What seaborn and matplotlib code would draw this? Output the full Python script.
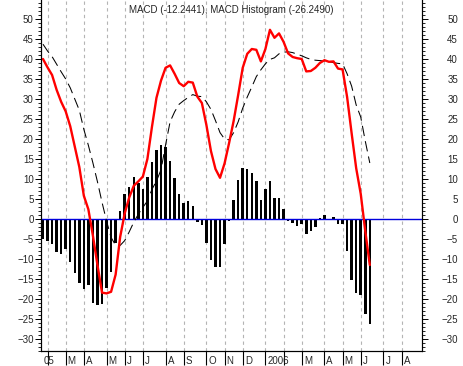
import numpy as np
import pandas as pd
import matplotlib
matplotlib.use('Agg')
import matplotlib.pyplot as plt
import matplotlib.transforms as mtrans
from matplotlib.ticker import MultipleLocator
import seaborn as sns

sns.set_theme(style='ticks')
plt.rcParams['font.family'] = ['Liberation Sans', 'DejaVu Sans']

# weekly data, first bar = week of 2005-01-24
start_week = '2005-01-24'
title = 'MACD (-12.2441), MACD Histogram (-26.2490)'

hist = [-5.0, -5.4, -6.3, -8.2, -8.75, -7.6, -10.7, -13.6, -16.1, -17.5,
        -16.5, -21.1, -21.6, -21.3, -17.3, -13.2, -6.0, 2.0, 6.25, 8.0,
        10.4, 9.0, 7.5, 10.4, 14.2, 17.25, 18.5, 18.0, 14.6, 10.2,
        6.25, 4.1, 4.5, 3.3, -0.8, -1.5, -5.9, -10.3, -11.9, -11.9,
        -6.2, -0.6, 4.7, 9.7, 12.7, 12.6, 11.6, 9.6, 4.8, 7.4,
        9.4, 5.2, 5.3, 2.4, -0.5, -1.1, -1.7, -1.25, -3.8, -2.9,
        -2.1, 0.25, 0.9, -0.2, 0.4, -1.25, -1.25, -7.9, -15.3, -18.4,
        -19.0, -23.8, -26.25]

macd = [40.0, 37.9, 36.0, 32.3, 29.3, 26.9, 23.2, 18.1, 13.0, 5.8,
        2.4, -4.2, -11.5, -18.4, -18.6, -18.2, -13.9, -4.5, 1.4, 5.4,
        8.3, 9.4, 10.6, 15.0, 23.0, 30.3, 34.6, 37.8, 38.4, 36.3,
        34.0, 33.2, 34.3, 34.1, 30.6, 29.0, 23.5, 17.0, 12.5, 10.3,
        13.9, 19.0, 24.5, 31.0, 37.8, 41.3, 42.5, 42.3, 39.4, 42.5,
        47.3, 45.3, 46.4, 44.3, 41.4, 40.5, 40.2, 40.0, 36.9, 37.0,
        37.8, 39.0, 39.7, 39.3, 39.4, 37.6, 37.4, 30.5, 21.4, 12.7,
        6.3, -3.0, -11.5]

signal = [43.7, 42.0, 40.6, 38.7, 36.8, 35.0, 32.8, 30.0, 27.2, 22.4,
          18.4, 14.0, 9.3, 4.2, -0.5, -4.6, -6.6, -6.6, -5.4, -3.2,
          -0.8, 1.2, 2.9, 4.5, 7.4, 9.5, 12.3, 18.5, 24.3, 26.8,
          28.7, 29.6, 30.4, 31.1, 30.7, 30.6, 29.3, 27.4, 24.6, 21.6,
          20.0, 19.8, 21.6, 24.3, 27.7, 30.5, 33.0, 35.6, 37.3, 38.8,
          39.9, 40.3, 41.3, 41.7, 41.8, 41.6, 41.2, 40.8, 40.3, 39.9,
          39.7, 39.6, 39.5, 39.3, 39.1, 38.9, 38.8, 36.3, 33.2, 28.5,
          25.5, 19.5, 14.0]

df = pd.DataFrame({'week': np.arange(len(hist)), 'hist': hist,
                   'macd': macd, 'signal': signal})

# month gridlines sit on the first weekly bar trading in that month
weeks = pd.date_range(start_week, periods=84, freq='W-MON')
week_ends = weeks + pd.Timedelta(days=4)
month_starts = pd.date_range('2005-02-01', '2006-08-01', freq='MS')
month_pos = [int(np.argmax(week_ends >= m)) for m in month_starts]
month_lab = ['2006' if m.month == 1 else ('' if m.month == 2 else m.strftime('%b')[0])
             for m in month_starts]

fig = plt.figure(figsize=(4.63, 3.66), dpi=100)
ax = fig.add_axes([41 / 463, 15 / 366, 381 / 463, 351 / 366])

for p in month_pos:
    ax.axvline(p, color='#b4b4b4', lw=0.8, ls=(0, (3, 3)), zorder=0)

sns.barplot(data=df, x='week', y='hist', native_scale=True, color='black',
            width=0.55, saturation=1, linewidth=0, errorbar=None, ax=ax, zorder=2)
ax.axhline(0, color='#0000dd', lw=1.0, zorder=2.5)
sns.lineplot(data=df, x='week', y='signal', color='black', lw=0.75,
             linestyle=(0, (10, 5)), ax=ax, zorder=3)
sns.lineplot(data=df, x='week', y='macd', color='red', lw=1.7, ax=ax, zorder=4)

ax.set_xlim(-0.44, 83.5)
ax.set_ylim(-33, 54.75)
ax.set_xlabel('')
ax.set_ylabel('')

ax.set_xticks(month_pos)
ax.set_xticklabels([])
ax.tick_params(axis='x', length=10, width=0.8, color='black', direction='out')
trans = mtrans.blended_transform_factory(ax.transData, ax.transAxes)
for p, lab in zip(month_pos, month_lab):
    ax.text(p + 0.45, -0.029, lab, transform=trans, ha='left', va='center', fontsize=7)
ax.text(0.05, -0.029, '05', transform=trans, ha='left', va='center', fontsize=7)

ax.yaxis.set_major_locator(MultipleLocator(5))
ax.yaxis.set_minor_locator(MultipleLocator(1))
ax.tick_params(axis='y', which='major', length=4.3, width=0.7, labelsize=7, pad=1, color='black')
ax.tick_params(axis='y', which='minor', length=2.2, width=0.6, color='black')

ax2 = ax.twinx()
ax2.set_ylim(ax.get_ylim())
ax2.yaxis.set_major_locator(MultipleLocator(5))
ax2.yaxis.set_minor_locator(MultipleLocator(1))
ax2.tick_params(axis='y', which='major', length=4.3, width=0.7, labelsize=7, pad=21.6, color='black')
ax2.tick_params(axis='y', which='minor', length=2.2, width=0.6, color='black')
for lbl in ax2.get_yticklabels():
    lbl.set_horizontalalignment('right')

for a in (ax, ax2):
    a.spines['top'].set_visible(False)
    for s in ('left', 'right', 'bottom'):
        a.spines[s].set_color('black')
        a.spines[s].set_linewidth(0.8)

ax.text(0.5, 0.985, title, transform=ax.transAxes, ha='center', va='top', fontsize=7)

fig.savefig('out.png', dpi=100)
